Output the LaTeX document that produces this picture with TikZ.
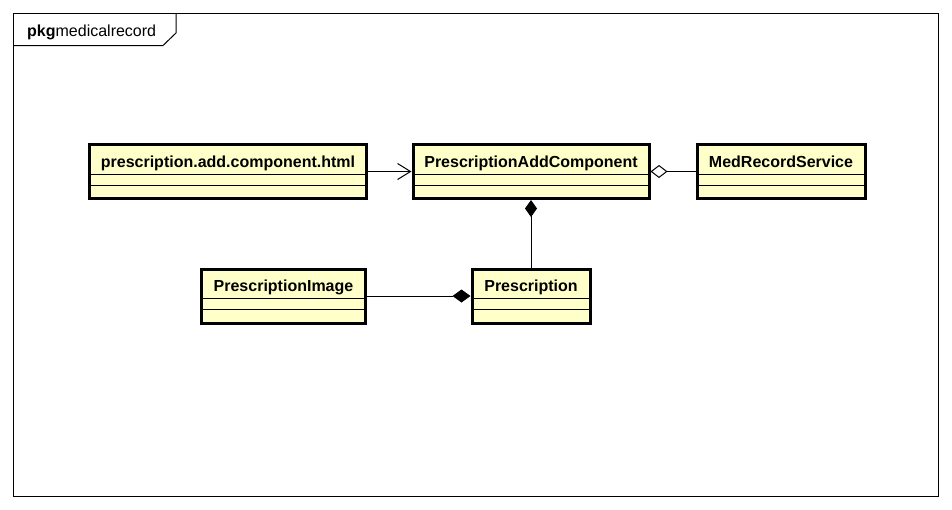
\documentclass[tikz,border=0pt]{standalone}
\usepackage{fontspec}
\setmainfont{Liberation Sans}
\usetikzlibrary{arrows.meta}
\definecolor{clsfill}{RGB}{255,255,202}

\begin{document}
\begin{tikzpicture}[x=1pt, y=-1pt,
	cls/.style={draw, line width=3pt, fill=clsfill, inner sep=0pt, text height=22.5pt, text depth=31.5pt, font=\bfseries\fontsize{16}{18}\selectfont},
	wire/.style={line width=1pt}]
	\useasboundingbox (0,0) rectangle (952,509);

	% package frame
	\draw[wire] (13.5,13.5) rectangle (938,496);
	\draw[wire] (13.5,45.5) -- (163,45.5) -- (176,33) -- (176,13.5);
	\node[anchor=base west, inner sep=0pt, font=\fontsize{16}{18}\selectfont] (pkg-label) at (27,36.5) {\textbf{pkg}medicalrecord};

	\node[cls, minimum width=277pt] at (228,171.5) (html) {prescription.add.component.html};
	\node[cls, minimum width=236pt] at (531,171.5) (add-component) {PrescriptionAddComponent};
	\node[cls, minimum width=168pt] at (781,171.5) (med-service) {MedRecordService};
	\node[cls, minimum width=164pt] at (283.5,296) (image) {PrescriptionImage};
	\node[cls, minimum width=118pt] at (531,296) (prescription) {Prescription};

	\foreach \c in {html, add-component, med-service, image, prescription} {
		\draw[wire] ([yshift=-31pt]\c.north west) to ([yshift=-31pt]\c.north east);
		\draw[wire] ([yshift=-42pt]\c.north west) to ([yshift=-42pt]\c.north east);
	}

	\draw[wire, -{Straight Barb[length=13pt, width=16pt]}] (html) to (add-component);
	\draw[wire, {Diamond[open, fill=white, length=17pt, width=13pt]}-] (add-component) to (med-service);
	\draw[wire, {Diamond[length=17pt, width=12pt]}-] (add-component) to (prescription);
	\draw[wire, -{Diamond[length=18pt, width=13pt]}] (image) to (prescription);
\end{tikzpicture}
\end{document}
